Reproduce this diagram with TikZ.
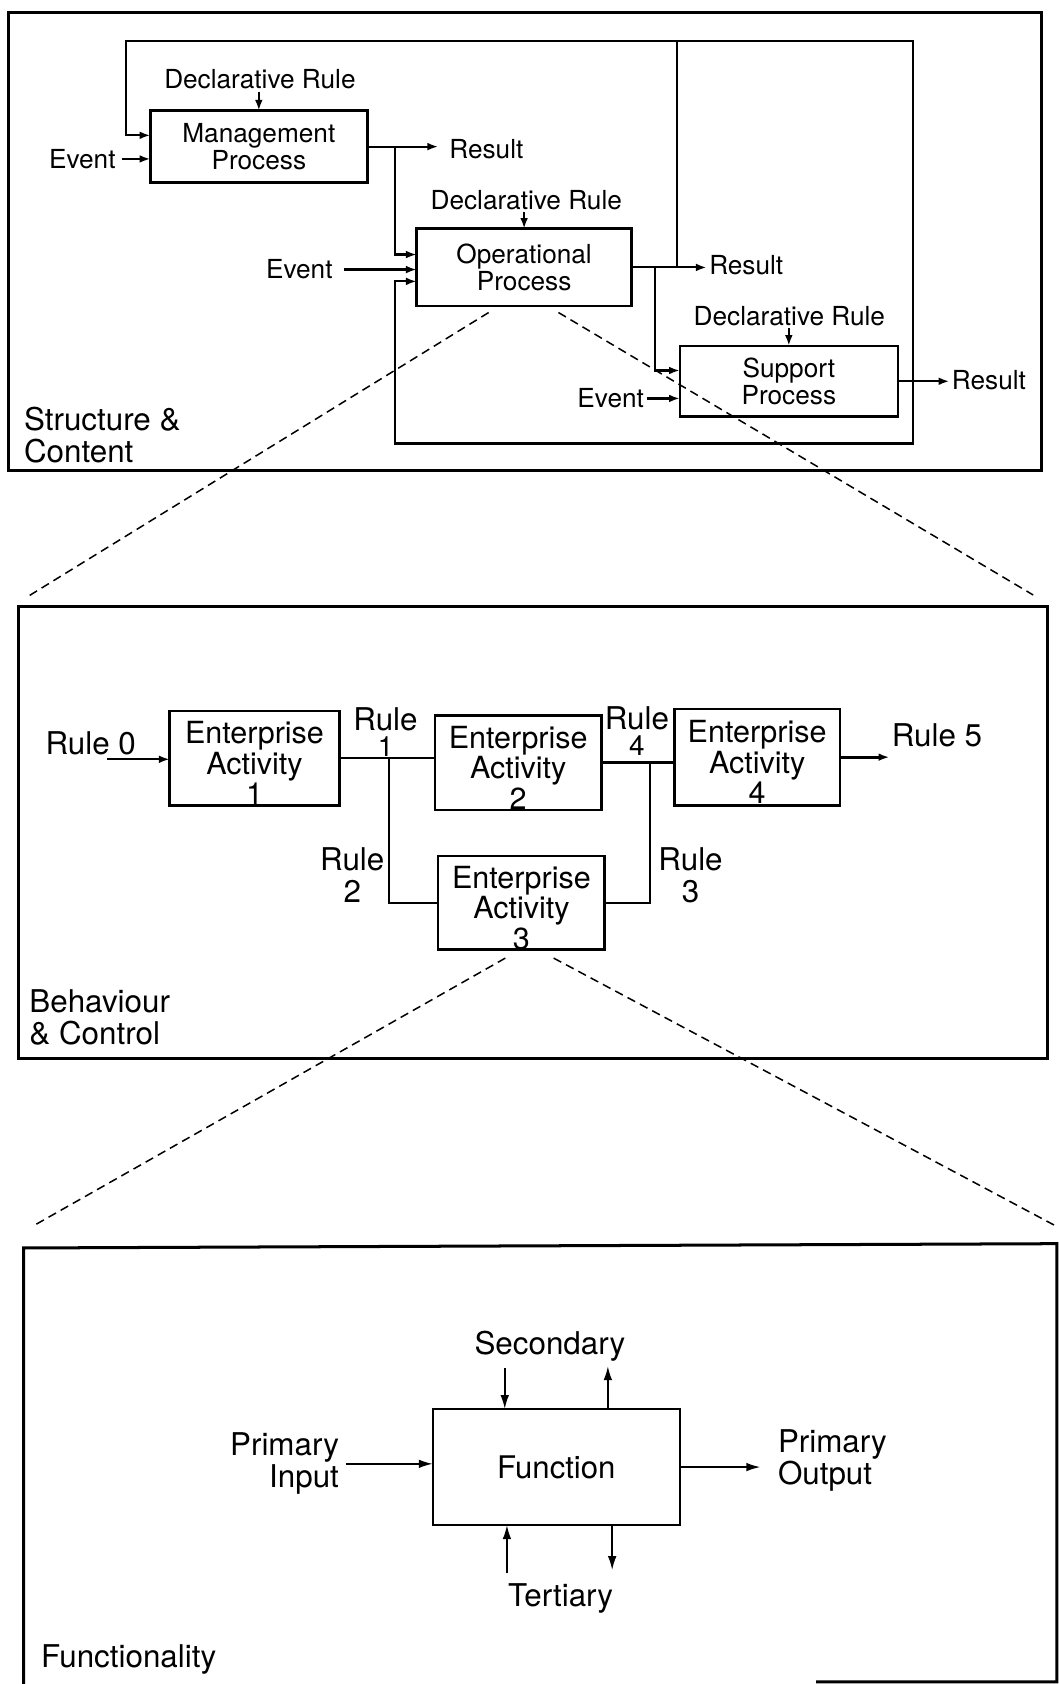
\documentclass[tikz,border=0pt]{standalone}
\usepackage{fontspec}
\setmainfont{TeX Gyre Heros}
\usetikzlibrary{arrows.meta,calc}
\begin{document}
\begin{tikzpicture}[x=0.5pt,y=-0.5pt,
  panel/.style={draw, line width=1.4pt, inner sep=0pt, outer sep=0pt},
  pbox/.style={draw, line width=1.2pt, align=center, inner sep=0pt, outer sep=0pt, font=\fontsize{12.2}{12.5}\selectfont},
  abox/.style={draw, line width=1.2pt, align=center, inner sep=0pt, outer sep=0pt, font=\fontsize{14.2}{14.2}\selectfont},
  fbox/.style={draw, line width=1.1pt, inner sep=0pt, outer sep=0pt, font=\fontsize{14.5}{15}\selectfont},
  smalltxt/.style={inner sep=1pt, font=\fontsize{12.2}{12.5}\selectfont},
  bigtxt/.style={inner sep=1pt, align=left, font=\fontsize{14.6}{15}\selectfont},
  digit/.style={inner sep=0.5pt, font=\fontsize{13}{13}\selectfont},
  conn/.style={line width=1pt},
  arr/.style={line width=1pt, -{Latex[length=5pt,width=3.6pt]}},
  farr/.style={line width=0.8pt, -{Latex[length=6.5pt,width=4pt]}},
  zoomline/.style={line width=0.7pt, dash pattern=on 4pt off 2.5pt},
]
\useasboundingbox (0,0) rectangle (986,1568);
\fill[white] (0,0) rectangle (986,1568);

% ---------------- Panel 1: Structure & Content ----------------
\node[panel, minimum width=481pt, minimum height=213pt] (p1) at (489,225) {};
\node[bigtxt, anchor=west] (sc) at (20,405) {Structure \&\\Content};

\node[pbox, minimum width=101pt, minimum height=33.5pt] (mgmt) at (241,136.5) {Management\\Process};
\node[pbox, minimum width=100pt, minimum height=36pt] (oper) at (488,249) {Operational\\Process};
\node[pbox, minimum width=101.5pt, minimum height=33pt] (supp) at (734.5,355) {Support\\Process};

\node[smalltxt] (dr1) at (242,74) {Declarative Rule};
\node[smalltxt] (dr2) at (490,186) {Declarative Rule};
\node[smalltxt] (dr3) at (735,294) {Declarative Rule};
\draw[arr] (dr1.south -| mgmt.north) -- (mgmt.north);
\draw[arr] (dr2.south -| oper.north) -- (oper.north);
\draw[arr] (dr3.south -| supp.north) -- (supp.north);

\node[smalltxt, anchor=east] (ev1) at (110,148) {Event};
\draw[arr, shorten <=2pt] (ev1.east) -- (ev1.east -| mgmt.west);
\node[smalltxt, anchor=east] (ev2) at (312,251) {Event};
\draw[arr, shorten <=4pt] (ev2.east) -- (ev2.east -| oper.west);
\node[smalltxt, anchor=east] (ev3) at (602,371) {Event};
\draw[arr] (ev3.east) -- (ev3.east -| supp.west);

\node[smalltxt, anchor=west] (res1) at (416,139) {Result};
\draw[arr, shorten >=4pt] (mgmt.east) -- (mgmt.east -| res1.west);
\node[smalltxt, anchor=west] (res2) at (658,247) {Result};
\draw[arr] (oper.east) -- (oper.east -| res2.west);
\node[smalltxt, anchor=west] (res3) at (884,354) {Result};
\draw[arr] (supp.east) -- (supp.east -| res3.west);

\coordinate (jr1) at ($(mgmt.east)+(26,0)$);
\coordinate (jr2) at ($(oper.east)+(42,0)$);
\coordinate (jr2b) at ($(oper.east)+(22,0)$);
\coordinate (jr3) at ($(supp.east)+(14,0)$);

% feedback loops
\draw[arr] (jr3) -- (850,38) -- (117,38) -- (117,126) -- ($(mgmt.west)+(0,-10.5)$);
\draw[conn] (jr2) -- (630,38);
\draw[arr] (jr3) -- (850,413) -- (368,413) -- (368,262) -- ($(oper.west)+(0,13)$);
\draw[arr] (jr1) -- (368,237) -- ($(oper.west)+(0,-12)$);
\draw[arr] (jr2b) -- (610,345) -- ($(supp.west)+(0,-10)$);

% ---------------- Panel 2: Behaviour & Control ----------------
\node[panel, minimum width=479pt, minimum height=210.5pt] (p2) at (496,775.5) {};
\node[bigtxt, anchor=west] (bc) at (25,947) {Behaviour\\\& Control};

\draw[zoomline] ($(oper.south)+(-33,6)$) -- ($(p2.north west)+(8,-9)$);
\draw[zoomline] ($(oper.south)+(32,6)$) -- ($(p2.north east)+(-13,-11)$);

\node[abox, minimum width=79pt, minimum height=44pt] (ea1) at (237,706) {\rule{0pt}{15pt}Enterprise\\Activity\\1};
\node[abox, minimum width=77.5pt, minimum height=44pt] (ea2) at (482.5,710) {\rule{0pt}{15pt}Enterprise\\Activity\\2};
\node[abox, minimum width=77pt, minimum height=45pt] (ea4) at (705,705) {\rule{0pt}{15pt}Enterprise\\Activity\\4};
\node[abox, minimum width=77.5pt, minimum height=43.5pt] (ea3) at (485.5,840.5) {\rule{0pt}{15pt}Enterprise\\Activity\\3};

\node[bigtxt, anchor=west] (r0) at (40,692) {Rule 0};
\coordinate (r0s) at (100,707);
\draw[arr] (r0s) -- (r0s -| ea1.west);

\draw[conn] (ea1.east) -- (ea1.east -| ea2.west);
\coordinate (j1) at ($(ea1.east)+(46,0)$);
\draw[conn] (j1) |- (ea3.west);
\draw[conn] (ea2.east) -- (ea2.east -| ea4.west);
\coordinate (j4) at ($(ea2.east)+(45,0)$);
\draw[conn] (j4) |- (ea3.east);

\node[bigtxt, anchor=west] (r5) at (828,685) {Rule 5};
\draw[arr, line width=1.3pt] (ea4.east) -- (ea4.east -| r5.west);

\node[bigtxt] (l1a) at (359,670) {Rule};
\node[digit] (l1b) at (359,695) {1};
\node[bigtxt] (l4a) at (593,669) {Rule};
\node[digit] (l4b) at (593,694) {4};
\node[bigtxt] (l2a) at (328,800) {Rule};
\node[bigtxt] (l2b) at (328,830) {2};
\node[bigtxt] (l3a) at (643,800) {Rule};
\node[bigtxt] (l3b) at (643,830) {3};

% ---------------- Panel 3: Functionality ----------------
\coordinate (p3nw) at (22,1162);
\coordinate (p3ne) at (984,1158);
\draw[panel] (760,1566) -- (984,1566) -- (p3ne) -- (p3nw) -- (22,1568);
\node[bigtxt, anchor=west] (fun) at (36,1545) {Functionality};

\draw[zoomline] ($(ea3.south)+(-15,8)$) -- ($(p3nw)+(8,-20)$);
\draw[zoomline] ($(ea3.south)+(30,8)$) -- ($(p3ne)+(0,-16)$);

\node[fbox, minimum width=115pt, minimum height=54pt] (fn) at (518,1366) {Function};
\node[bigtxt, align=right, anchor=east] (pin) at (318,1363) {Primary\\Input};
\draw[farr, shorten <=2pt] (pin.east) -- (pin.east -| fn.west);
\node[bigtxt, anchor=west] (pout) at (722,1360) {Primary\\Output};
\draw[farr, shorten >=7pt] (fn.east) -- (fn.east -| pout.west);
\node[bigtxt] (sec) at (512,1253) {Secondary};
\draw[farr] ($(fn.north)+(-48,-38)$) -- ($(fn.north)+(-48,0)$);
\draw[farr] ($(fn.north)+(48,0)$) -- ($(fn.north)+(48,-40)$);
\node[bigtxt] (ter) at (522,1488) {Tertiary};
\draw[farr] ($(fn.south)+(-46,45)$) -- ($(fn.south)+(-46,0)$);
\draw[farr] ($(fn.south)+(52,0)$) -- ($(fn.south)+(52,42)$);
\end{tikzpicture}
\end{document}
